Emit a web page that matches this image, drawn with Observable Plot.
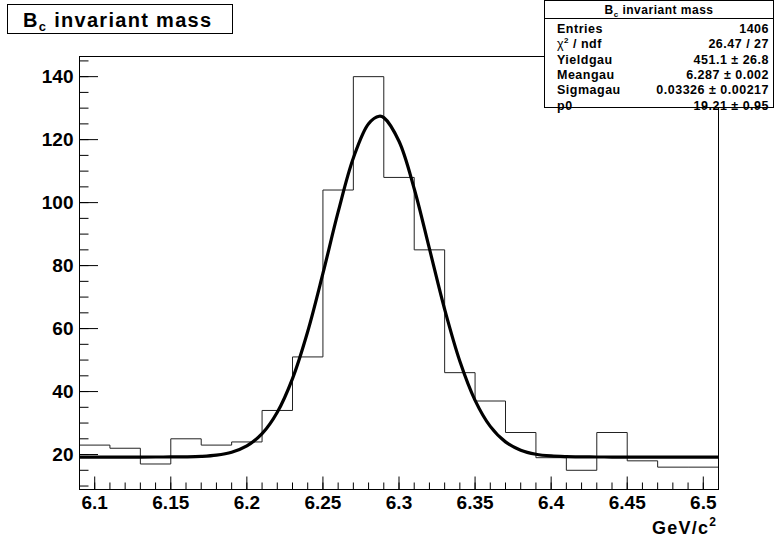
<!DOCTYPE html>
<html><head><meta charset="utf-8">
<script src="https://cdn.jsdelivr.net/npm/d3@7"></script>
<script src="https://cdn.jsdelivr.net/npm/@observablehq/plot@0.6"></script>
<style>
body{margin:0;background:#fff}
svg{font-family:"Liberation Sans",Arial,Helvetica,sans-serif}
svg text.ticklab{font-size:19px !important;font-weight:bold}
</style>
</head><body><div id="chart"></div>
<script>
// Histogram bins (GeV/c^2) and counts
const binEdges = [6.09,6.11,6.13,6.15,6.17,6.19,6.21,6.23,6.25,6.27,6.29,6.31,6.33,6.35,6.37,6.39,6.41,6.43,6.45,6.47,6.49,6.51];
const binCounts = [23,22,17,25,23,24,34,51,104,140,108,85,46,37,27,19,15,27,18,16,16];

// Fit curve (gaussian + constant) sampled points
const fitX = [6.09,6.10,6.11,6.12,6.13,6.14,6.15,6.16,6.17,6.18,6.19,6.20,6.21,6.22,6.23,6.24,6.25,6.26,6.27,6.28,6.287,6.29,6.30,6.31,6.32,6.33,6.34,6.35,6.36,6.37,6.38,6.39,6.40,6.41,6.42,6.43,6.44,6.45,6.46,6.47,6.48,6.49,6.50,6.51];
const fitY = [19.21,19.21,19.21,19.21,19.21,19.22,19.23,19.28,19.43,19.82,20.75,22.75,26.63,33.44,44.12,59.08,77.50,97.05,114.18,125.06,127.43,126.99,119.47,104.41,85.36,66.13,49.61,37.21,28.94,24.02,21.38,20.11,19.55,19.33,19.25,19.22,19.21,19.21,19.21,19.21,19.21,19.21,19.21,19.21];

// Axis ticks
const xMajorTicks = [6.1,6.15,6.2,6.25,6.3,6.35,6.4,6.45,6.5];
const xTickLabels = ["6.1","6.15","6.2","6.25","6.3","6.35","6.4","6.45","6.5"];
const xMinorTicks = [6.10,6.11,6.12,6.13,6.14,6.15,6.16,6.17,6.18,6.19,6.20,6.21,6.22,6.23,6.24,6.25,6.26,6.27,6.28,6.29,6.30,6.31,6.32,6.33,6.34,6.35,6.36,6.37,6.38,6.39,6.40,6.41,6.42,6.43,6.44,6.45,6.46,6.47,6.48,6.49,6.50];
const yMajorTicks = [20,40,60,80,100,120,140];
const yTickLabels = ["20","40","60","80","100","120","140"];
const yMinorTicks = [10,15,20,25,30,35,40,45,50,55,60,65,70,75,80,85,90,95,100,105,110,115,120,125,130,135,140,145];

// Stats box
const statLabels = ["Entries","χ2 / ndf","Yieldgau","Meangau","Sigmagau","p0"];
const statValues = ["1406","26.47 / 27","451.1 ± 26.8","6.287 ± 0.002","0.03326 ± 0.00217","19.21 ± 0.95"];

const W = 775, H = 543;
const mL = 79, mR = 57, mT = 56, mB = 54;
const plotH = H - mT - mB, plotW = W - mL - mR;

const histPts = binEdges.map((e, i) => ({x: e, y: binCounts[Math.min(i, binCounts.length - 1)]}));
const fitPts = fitX.map((x, i) => ({x, y: fitY[i]}));

const svg = Plot.plot({
  width: W, height: H,
  marginLeft: mL, marginRight: mR, marginTop: mT, marginBottom: mB,
  style: {fontFamily: '"Liberation Sans", Arial, sans-serif', background: "#fff", overflow: "visible"},
  x: {domain: [6.09, 6.51], axis: null},
  y: {domain: [8.9, 146.4], axis: null},
  marks: [
    Plot.line(histPts, {x: "x", y: "y", curve: "step-after", stroke: "#222", strokeWidth: 1, clip: true}),
    Plot.line(fitPts, {x: "x", y: "y", curve: "catmull-rom", stroke: "#000", strokeWidth: 3.2, clip: true}),
    Plot.tickX(xMinorTicks, {x: d => d, insetTop: plotH - 6.5, stroke: "#000", strokeWidth: 1}),
    Plot.tickX(xMajorTicks, {x: d => d, insetTop: plotH - 12.5, stroke: "#000", strokeWidth: 1}),
    Plot.tickY(yMinorTicks, {y: d => d, insetRight: plotW - 9.5, stroke: "#000", strokeWidth: 1}),
    Plot.tickY(yMajorTicks, {y: d => d, insetRight: plotW - 19, stroke: "#000", strokeWidth: 1}),
    Plot.text(xMajorTicks, {x: d => d, text: (d, i) => xTickLabels[i], frameAnchor: "bottom", lineAnchor: "top", dy: 6, fontSize: 19, fontWeight: "bold", fill: "#000", className: "ticklab"}),
    Plot.text(yMajorTicks, {y: d => d, text: (d, i) => yTickLabels[i], frameAnchor: "left", textAnchor: "end", dx: -6, fontSize: 19, fontWeight: "bold", fill: "#000", className: "ticklab"}),
    Plot.frame({stroke: "#000", strokeWidth: 1})
  ]
});

const s = d3.select(svg);
s.selectAll("text").classed("ticklab", true).attr("font-size", 19).style("font-size", "19px");

const font = '"Liberation Sans", Arial, sans-serif';
function txt(g, x, y, size, anchor) {
  return g.append("text").attr("x", x).attr("y", y).attr("text-anchor", anchor)
    .attr("font-family", font).attr("font-size", size).attr("font-weight", "bold").attr("fill", "#000");
}

// Axis title
const xt = txt(s, 717, 534, 18, "end").attr("letter-spacing", 1.2);
xt.append("tspan").text("GeV/c");
xt.append("tspan").attr("font-size", 12).attr("dy", -8).text("2");

// Title box
const tg = s.append("g");
tg.append("rect").attr("x", 7.5).attr("y", 4.5).attr("width", 225).attr("height", 29).attr("fill", "#fff").attr("stroke", "#000").attr("stroke-width", 1);
const tt = txt(tg, 23, 27, 20, "start").attr("letter-spacing", 1.3);
tt.append("tspan").text("B");
tt.append("tspan").attr("font-size", 13).attr("dy", 4).text("c");
tt.append("tspan").attr("dy", -4).text(" invariant mass");

// Stats box
const sg = s.append("g");
sg.append("rect").attr("x", 544.5).attr("y", 0.5).attr("width", 229).attr("height", 107).attr("fill", "#fff").attr("stroke", "#000").attr("stroke-width", 1);
sg.append("line").attr("x1", 544.5).attr("x2", 773.5).attr("y1", 18.5).attr("y2", 18.5).attr("stroke", "#000");
const ht = txt(sg, 659, 14, 12, "middle").attr("letter-spacing", 0.5);
ht.append("tspan").text("B");
ht.append("tspan").attr("font-size", 8).attr("dy", 3).text("c");
ht.append("tspan").attr("dy", -3).text(" invariant mass");
statLabels.forEach((lab, i) => {
  const y = 33 + i * 15.3;
  const t = txt(sg, 557, y, 12.5, "start").attr("letter-spacing", 0.5);
  if (lab.startsWith("χ2")) {
    t.append("tspan").attr("font-weight", "normal").text("χ");
    t.append("tspan").attr("font-size", 8).attr("dy", -5).text("2");
    t.append("tspan").attr("dy", 5).text(" / ndf");
  } else t.text(lab);
  txt(sg, 769, y, 12.5, "end").attr("letter-spacing", 0.5).text(statValues[i]);
});

document.getElementById("chart").appendChild(svg);
</script>
</body></html>
